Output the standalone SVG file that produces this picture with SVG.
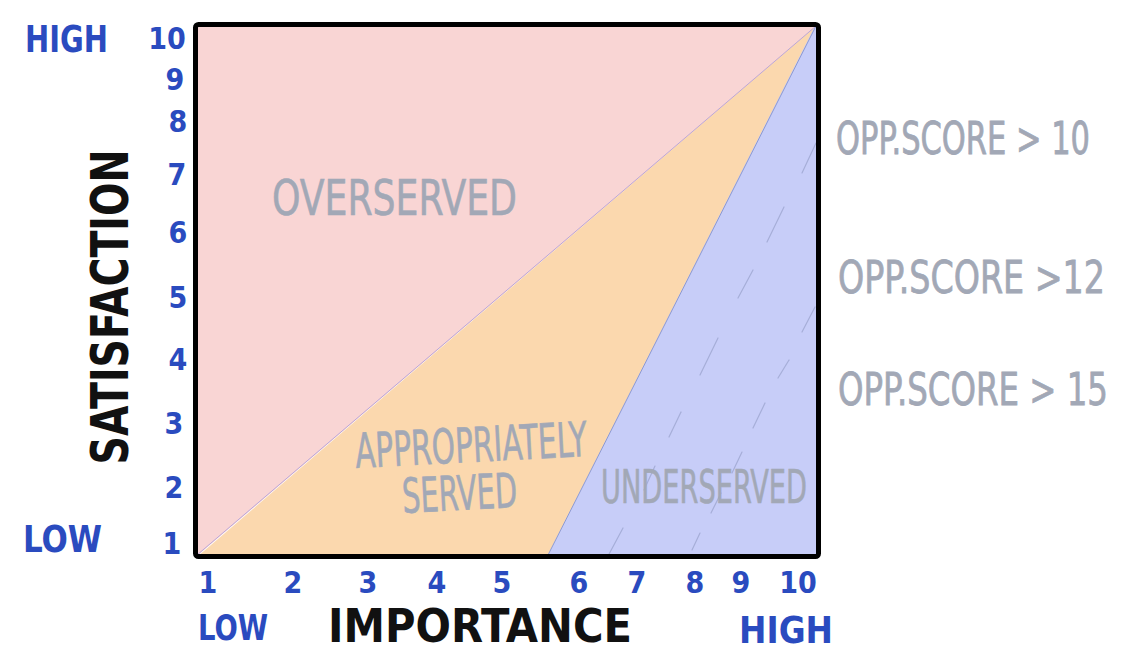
<svg xmlns="http://www.w3.org/2000/svg" width="1122" height="652" viewBox="0 0 1122 652">
<defs>
<style>
.blue{font-family:"DejaVu Sans Condensed","DejaVu Sans",sans-serif;font-weight:bold;fill:#2a4bbf;}
.num{font-size:30px;text-anchor:middle;}
.axis{font-family:"DejaVu Sans Condensed","DejaVu Sans",sans-serif;font-weight:bold;fill:#111;}
.gray{font-family:"DejaVu Sans Condensed","DejaVu Sans",sans-serif;fill:#a2a8b6;stroke:#a2a8b6;stroke-width:0.6;}
.hatch{stroke:#a6aed8;stroke-width:1.2;stroke-linecap:round;fill:none;}
</style>
</defs>
<rect width="1122" height="652" fill="#ffffff"/>
<g id="regions">
<polygon id="overserved-area" points="195,24 819,24 197,556" fill="#f9d5d4"/>
<polygon id="appropriate-area" points="197,557 816,26 547,557" fill="#fbd8ae"/>
<polygon id="underserved-area" points="547,557 816,24 819,24 819,557" fill="#c7cdf8"/>
<line x1="197" y1="555" x2="816" y2="26" stroke="#bba6d8" stroke-width="1"/>
<line x1="547" y1="557" x2="816" y2="26" stroke="#8e9ad0" stroke-width="1"/>
</g>
<g id="hatching" class="hatch">
<line x1="816" y1="143" x2="802" y2="173"/>
<line x1="784" y1="207" x2="767" y2="242"/>
<line x1="753" y1="270" x2="738" y2="298"/>
<line x1="718" y1="338" x2="700" y2="375"/>
<line x1="681" y1="412" x2="669" y2="437"/>
<line x1="655" y1="466" x2="644" y2="490"/>
<line x1="623" y1="528" x2="608" y2="556"/>
<line x1="815" y1="307" x2="802" y2="332"/>
<line x1="789" y1="360" x2="778" y2="378"/>
<line x1="765" y1="403" x2="753" y2="428"/>
<line x1="742" y1="452" x2="732" y2="473"/>
<line x1="721" y1="493" x2="711" y2="513"/>
<line x1="700" y1="533" x2="692" y2="550"/>
</g>
<g id="frame">
<rect x="195.5" y="24.5" width="623" height="532" rx="3" fill="none" stroke="#000" stroke-width="5" stroke-linejoin="round"/>
</g>
<g id="y-axis">
<text class="blue" x="25" y="52" font-size="38" textLength="83" lengthAdjust="spacingAndGlyphs">HIGH</text>
<text class="blue" x="23" y="552" font-size="38" textLength="79" lengthAdjust="spacingAndGlyphs">LOW</text>
<text class="blue num" x="167" y="49">10</text>
<text class="blue num" x="175" y="90">9</text>
<text class="blue num" x="178" y="132">8</text>
<text class="blue num" x="177" y="185">7</text>
<text class="blue num" x="178" y="243">6</text>
<text class="blue num" x="178" y="308">5</text>
<text class="blue num" x="178" y="370">4</text>
<text class="blue num" x="174" y="434">3</text>
<text class="blue num" x="174" y="498">2</text>
<text class="blue num" x="172" y="554">1</text>
<text class="axis" transform="translate(109,307) rotate(-90)" x="0" y="19" font-size="52" text-anchor="middle" textLength="315" lengthAdjust="spacingAndGlyphs">SATISFACTION</text>
</g>
<g id="x-axis">
<text class="blue num" x="208" y="593">1</text>
<text class="blue num" x="293" y="593">2</text>
<text class="blue num" x="368" y="593">3</text>
<text class="blue num" x="437" y="593">4</text>
<text class="blue num" x="502" y="593">5</text>
<text class="blue num" x="579" y="593">6</text>
<text class="blue num" x="637" y="593">7</text>
<text class="blue num" x="695" y="593">8</text>
<text class="blue num" x="741" y="593">9</text>
<text class="blue num" x="798" y="593">10</text>
<text class="blue" x="198" y="640" font-size="36" textLength="70" lengthAdjust="spacingAndGlyphs">LOW</text>
<text class="blue" x="739" y="643" font-size="38" textLength="94" lengthAdjust="spacingAndGlyphs">HIGH</text>
<text class="axis" x="480" y="642" font-size="46" text-anchor="middle" textLength="304" lengthAdjust="spacingAndGlyphs">IMPORTANCE</text>
</g>
<g id="region-labels">
<text class="gray" x="272" y="215" font-size="50" textLength="245" lengthAdjust="spacingAndGlyphs">OVERSERVED</text>
<text class="gray" transform="rotate(-3 471 445)" x="355" y="462" font-size="48" textLength="232" lengthAdjust="spacingAndGlyphs">APPROPRIATELY</text>
<text class="gray" transform="rotate(-3 460 492)" x="402" y="510" font-size="48" textLength="115" lengthAdjust="spacingAndGlyphs">SERVED</text>
<text class="gray" x="601" y="503" font-size="46" textLength="206" lengthAdjust="spacingAndGlyphs">UNDERSERVED</text>
</g>
<g id="opp-scores">
<text class="gray" transform="translate(836,154) scale(1,1.37)" x="0" y="0" font-size="33" textLength="254" lengthAdjust="spacingAndGlyphs">OPP.SCORE &gt; 10</text>
<text class="gray" transform="translate(838,293) scale(1,1.29)" x="0" y="0" font-size="35" textLength="267" lengthAdjust="spacingAndGlyphs">OPP.SCORE &gt;12</text>
<text class="gray" transform="translate(838,405) scale(1,1.29)" x="0" y="0" font-size="35" textLength="270" lengthAdjust="spacingAndGlyphs">OPP.SCORE &gt; 15</text>
</g>
</svg>
